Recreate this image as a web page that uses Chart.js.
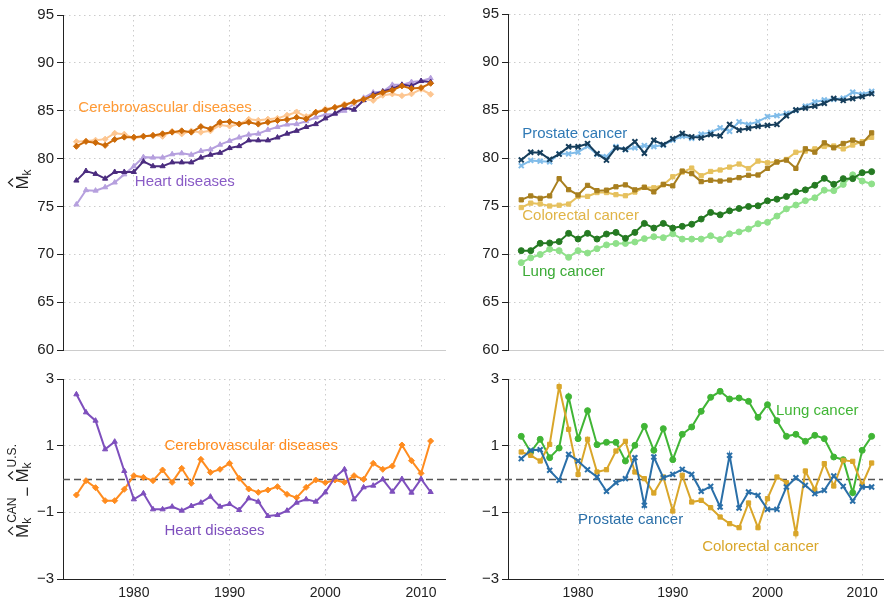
<!DOCTYPE html>
<html lang="en">
<head>
<meta charset="UTF-8">
<title>Life expectancy: Canada vs U.S.</title>
<script src="https://cdn.jsdelivr.net/npm/chart.js@4"></script>
<style>
  body { margin: 0; background: #fff; }
  #wrap { position: relative; width: 889px; height: 606px; overflow: hidden; }
  #wrap canvas { position: absolute; }
</style>
</head>
<body>
<div id="wrap">
  <canvas id="topLeft" width="450" height="362" style="left:0;top:0;width:450px;height:362px"></canvas>
  <canvas id="topRight" width="439" height="362" style="left:450px;top:0;width:439px;height:362px"></canvas>
  <canvas id="botLeft" width="450" height="246" style="left:0;top:360px;width:450px;height:246px"></canvas>
  <canvas id="botRight" width="439" height="246" style="left:450px;top:360px;width:439px;height:246px"></canvas>
</div>
<script>
const years = [1974, 1975, 1976, 1977, 1978, 1979, 1980, 1981, 1982, 1983, 1984, 1985, 1986, 1987,
  1988, 1989, 1990, 1991, 1992, 1993, 1994, 1995, 1996, 1997, 1998, 1999, 2000, 2001, 2002, 2003,
  2004, 2005, 2006, 2007, 2008, 2009, 2010, 2011];
const xTicks = [1980, 1990, 2000, 2010];
const yTicksTop = [60, 65, 70, 75, 80, 85, 90, 95];
const yTicksBottom = [-3, -1, 1, 3];

// top left: M_k for Canada (dark) and U.S. (light)
const heartCan = [77.7, 78.7, 78.4, 77.9, 78.6, 78.6, 78.6, 79.7, 79.2, 79.2, 79.6, 79.6, 79.6, 80.1,
  80.4, 80.6, 81.1, 81.3, 81.9, 81.9, 81.9, 82.2, 82.6, 82.9, 83.3, 83.6, 84.2, 84.7, 85.3, 85.1,
  86.1, 86.7, 87.0, 87.3, 87.7, 87.6, 88.1, 88.0];
const heartUs = [75.2, 76.7, 76.65, 77.0, 77.5, 78.35, 79.2, 80.15, 80.1, 80.1, 80.45, 80.55, 80.4, 80.8,
  80.95, 81.45, 81.85, 82.2, 82.5, 82.6, 83.0, 83.3, 83.55, 83.6, 83.9, 84.3, 84.6, 84.65, 85.0, 85.7,
  86.35, 86.9, 87.0, 87.7, 87.7, 88.0, 88.1, 88.4];
const cerebroCan = [81.28, 81.79, 81.66, 81.38, 82.0, 82.24, 82.24, 82.34, 82.41, 82.59, 82.76, 82.9, 82.76, 83.34,
  83.1, 83.79, 83.86, 83.62, 83.8, 83.6, 83.79, 83.97, 84.07, 84.31, 84.14, 84.83, 85.07, 85.34, 85.59, 85.93,
  86.2, 86.55, 86.9, 87.14, 87.59, 87.31, 87.41, 87.86];
const cerebroUs = [81.76, 81.84, 81.92, 82.03, 82.65, 82.55, 82.14, 82.29, 82.46, 82.32, 82.86, 82.58, 82.89, 82.75,
  82.9, 83.5, 83.39, 83.6, 84.1, 84.0, 84.12, 84.2, 84.53, 84.87, 84.39, 84.86, 85.18, 85.37, 85.69, 85.83,
  86.21, 86.08, 86.61, 86.75, 86.57, 86.76, 87.24, 86.72];

// top right
const prostateCan = [79.8, 80.6, 80.55, 79.85, 80.4, 81.17, 81.17, 81.5, 80.45, 79.78, 81.06, 80.9, 81.7, 80.5,
  81.85, 81.4, 82.0, 82.55, 82.2, 82.1, 82.45, 82.3, 83.5, 82.9, 83.1, 83.3, 83.4, 83.5, 84.4, 85.0,
  85.2, 85.4, 85.7, 86.2, 86.0, 86.2, 86.4, 86.7];
const prostateUs = [79.2, 79.75, 79.67, 79.6, 80.44, 80.43, 80.63, 81.22, 80.39, 80.15, 81.17, 80.89, 81.06, 81.29,
  81.19, 81.36, 81.86, 82.26, 82.06, 82.47, 82.67, 83.14, 82.79, 83.77, 83.49, 83.79, 84.31, 84.41, 84.64, 84.96,
  85.39, 85.84, 86.04, 86.11, 86.22, 86.86, 86.64, 86.94];
const colorectalCan = [75.64, 76.05, 75.8, 76.05, 77.85, 76.7, 76.15, 77.15, 76.6, 76.65, 77.0, 77.2, 76.68, 76.95,
  76.47, 77.26, 77.1, 78.64, 78.37, 77.54, 77.68, 77.6, 77.7, 77.95, 78.2, 78.23, 78.92, 79.58, 79.78, 78.92,
  80.96, 80.61, 81.58, 81.06, 81.51, 81.86, 81.51, 82.62];
const colorectalUs = [74.84, 75.3, 75.22, 75.0, 75.08, 75.2, 76.0, 76.0, 76.4, 76.4, 76.18, 76.07, 76.45, 76.95,
  76.9, 77.2, 78.05, 78.53, 78.95, 78.15, 78.6, 78.75, 79.05, 79.37, 78.9, 79.68, 79.5, 79.6, 79.85, 80.6,
  80.72, 80.95, 81.2, 81.25, 80.95, 81.35, 81.7, 82.15];
const lungCan = [70.35, 70.35, 71.11, 71.15, 71.29, 72.15, 71.56, 72.15, 71.56, 72.08, 72.25, 71.63, 72.25, 73.19,
  72.7, 73.19, 72.7, 72.88, 73.1, 73.64, 74.33, 74.08, 74.5, 74.74, 74.95, 75.02, 75.54, 75.71, 75.99, 76.47,
  76.68, 77.16, 77.88, 77.26, 77.85, 77.85, 78.47, 78.58];
const lungUs = [69.1, 69.6, 69.95, 70.5, 70.35, 69.65, 70.35, 70.1, 70.55, 70.95, 71.1, 71.1, 71.25, 71.6,
  71.8, 71.7, 72.1, 71.55, 71.55, 71.55, 71.9, 71.5, 72.1, 72.3, 72.6, 73.15, 73.3, 73.95, 74.7, 75.1,
  75.55, 75.85, 76.65, 76.6, 77.25, 78.25, 77.6, 77.3];

// bottom: Canada minus U.S.
const heartDiff = [2.54, 2.0, 1.75, 0.89, 1.12, 0.24, -0.61, -0.43, -0.91, -0.91, -0.83, -0.95, -0.81, -0.71,
  -0.53, -0.83, -0.75, -0.93, -0.58, -0.68, -1.11, -1.08, -0.95, -0.71, -0.61, -0.68, -0.40, 0.05, 0.29, -0.61,
  -0.25, -0.20, -0.01, -0.38, 0.0, -0.41, 0.0, -0.39];
const cerebroDiff = [-0.48, -0.05, -0.26, -0.65, -0.65, -0.31, 0.10, 0.05, -0.05, 0.27, -0.10, 0.32, -0.13, 0.59,
  0.20, 0.29, 0.47, 0.02, -0.30, -0.40, -0.33, -0.23, -0.46, -0.56, -0.25, -0.03, -0.11, -0.03, -0.10, 0.10,
  -0.01, 0.47, 0.29, 0.39, 1.02, 0.55, 0.17, 1.14];
const lungDiff = [1.28, 0.81, 1.19, 0.64, 0.93, 2.47, 1.21, 2.05, 1.03, 1.10, 1.10, 0.54, 1.01, 1.58,
  0.86, 1.51, 0.58, 1.34, 1.56, 2.03, 2.45, 2.63, 2.40, 2.43, 2.33, 1.85, 2.23, 1.75, 1.28, 1.34,
  1.13, 1.31, 1.21, 0.66, 0.58, -0.41, 0.86, 1.28];
const colorectalDiff = [0.81, 0.71, 0.54, 1.04, 2.77, 1.49, 0.14, 1.19, 0.21, 0.28, 0.84, 1.13, 0.21, 0.01,
  -0.42, 0.06, -0.96, 0.11, -0.69, -0.64, -0.86, -1.14, -1.34, -1.46, -0.72, -1.46, -0.59, 0.06, -0.11, -1.64,
  0.24, -0.32, 0.46, -0.21, 0.56, 0.53, -0.17, 0.48];
const prostateDiff = [0.61, 0.86, 0.88, 0.26, -0.04, 0.74, 0.54, 0.28, 0.06, -0.37, -0.11, 0.01, 0.64, -0.79,
  0.66, 0.04, 0.14, 0.29, 0.14, -0.37, -0.22, -0.84, 0.71, -0.87, -0.39, -0.49, -0.91, -0.91, -0.24, 0.04,
  -0.19, -0.44, -0.34, 0.09, -0.22, -0.66, -0.24, -0.24];

const FONT = '"Liberation Sans", Arial, Helvetica, sans-serif';
const gridColor = '#cccccc';

function series(vals, color, style, radius) {
  return {
    data: years.map((yr, i) => ({ x: yr, y: vals[i] })),
    borderColor: color,
    backgroundColor: color,
    borderWidth: 2,
    pointStyle: style,
    pointRadius: radius,
    pointBorderWidth: style === 'crossRot' ? 2 : 1,
    tension: 0
  };
}

// text labels placed next to the lines, in data units
const labelPlugin = {
  id: 'seriesLabels',
  afterDatasetsDraw(chart, args, opts) {
    if (!opts.items) return;
    const { ctx, scales } = chart;
    ctx.save();
    ctx.font = '15px ' + FONT;
    ctx.textAlign = 'left';
    ctx.textBaseline = 'middle';
    opts.items.forEach(l => {
      ctx.fillStyle = l.color;
      ctx.fillText(l.text, scales.x.getPixelForValue(l.x), scales.y.getPixelForValue(l.y));
    });
    ctx.restore();
  }
};

// dashed reference line at zero
const zeroPlugin = {
  id: 'zeroLine',
  beforeDatasetsDraw(chart, args, opts) {
    if (!opts.show) return;
    const { ctx, chartArea, scales } = chart;
    const y = Math.round(scales.y.getPixelForValue(0)) + 0.5;
    ctx.save();
    ctx.strokeStyle = '#555';
    ctx.lineWidth = 1.5;
    ctx.setLineDash([7, 4]);
    ctx.beginPath();
    ctx.moveTo(chartArea.left - (opts.extendLeft || 0), y);
    ctx.lineTo(chartArea.right, y);
    ctx.stroke();
    ctx.restore();
  }
};

// rotated y title with hats, sub- and superscripts
const titlePlugin = {
  id: 'axisTitle',
  afterDraw(chart, args, opts) {
    if (!opts.parts) return;
    const { ctx, scales } = chart;
    const big = '17px ' + FONT, small = '12px ' + FONT;
    let total = 0;
    const widths = opts.parts.map(p => {
      let w;
      if (p.t) { ctx.font = big; w = ctx.measureText(p.t).width; }
      else {
        ctx.font = small;
        w = Math.max(ctx.measureText(p.sub || '').width, ctx.measureText(p.sup || '').width + 1);
      }
      w += p.gap || 0;
      total += w;
      return w;
    });
    const cy = (scales.y.top + scales.y.bottom) / 2 + (opts.shift || 0);
    ctx.save();
    ctx.translate(opts.baseX, cy);
    ctx.rotate(-Math.PI / 2);
    ctx.fillStyle = '#222';
    ctx.strokeStyle = '#222';
    ctx.textBaseline = 'alphabetic';
    ctx.textAlign = 'left';
    let u = -total / 2;
    opts.parts.forEach((p, i) => {
      if (p.t) {
        ctx.font = big;
        ctx.fillText(p.t, u, p.low ? 5 : 0);
        if (p.hat) {
          const cx = u + ctx.measureText(p.t).width / 2;
          ctx.lineWidth = 1.2;
          ctx.beginPath();
          ctx.moveTo(cx - 4, -15);
          ctx.lineTo(cx, -19.5);
          ctx.lineTo(cx + 4, -15);
          ctx.stroke();
        }
      } else {
        ctx.font = small;
        if (p.sub) ctx.fillText(p.sub, u, 3);
        if (p.sup) ctx.fillText(p.sup, u + 1, -12);
      }
      u += widths[i];
    });
    ctx.restore();
  }
};

function panel(id, o) {
  return new Chart(document.getElementById(id), {
    type: 'line',
    data: { datasets: o.datasets },
    options: {
      responsive: false,
      animation: false,
      events: [],
      layout: { padding: { top: o.padTop, right: o.padRight, left: 0, bottom: 0 } },
      plugins: {
        legend: { display: false },
        tooltip: { enabled: false },
        seriesLabels: { items: o.labels },
        zeroLine: { show: !!o.zero, extendLeft: o.zeroExtend || 0 },
        axisTitle: o.title || {}
      },
      scales: {
        x: {
          type: 'linear',
          min: o.xMin,
          max: o.xMax,
          afterBuildTicks: s => { s.ticks = xTicks.map(v => ({ value: v })); },
          afterFit: s => { s.height = o.xHeight; },
          grid: { color: gridColor, drawTicks: false },
          border: { color: o.xBorder, dash: [1.5, 3.5] },
          ticks: {
            display: o.xLabels,
            padding: 6,
            color: '#222',
            font: { family: FONT, size: 14 },
            callback: v => String(v)
          }
        },
        y: {
          min: o.yMin,
          max: o.yMax,
          afterBuildTicks: s => { s.ticks = o.yTicks.map(v => ({ value: v })); },
          afterFit: s => { s.width = o.yWidth; },
          grid: { color: gridColor, tickColor: '#222', tickLength: 6, tickBorderDash: [] },
          border: { color: '#222', dash: [1.5, 3.5] },
          ticks: {
            padding: 3,
            color: '#222',
            font: { family: FONT, size: 15 },
            callback: v => String(v).replace('-', '\u2212')
          }
        }
      }
    },
    plugins: [labelPlugin, zeroPlugin, titlePlugin]
  });
}

const hatTitle = [{ t: 'M', hat: true }, { sub: 'k' }];
const diffTitle = [{ t: 'M', hat: true }, { sub: 'k', sup: 'CAN', gap: 1 }, { t: '\u2212', low: true, gap: 4 },
  { t: 'M', hat: true }, { sub: 'k', sup: 'U.S.' }];

panel('topLeft', {
  datasets: [
    series(cerebroCan, '#cc6a08', 'rectRot', 3),
    series(cerebroUs, '#fdc691', 'rectRot', 3),
    series(heartCan, '#4b2c7f', 'triangle', 3),
    series(heartUs, '#b6a0de', 'triangle', 3)
  ],
  labels: [
    { text: 'Cerebrovascular diseases', x: 1974.2, y: 85.3, color: '#ff9a35' },
    { text: 'Heart diseases', x: 1980.1, y: 77.55, color: '#8a5cc6' }
  ],
  title: { parts: hatTitle, baseX: 28, shift: -3 },
  padTop: 15, padRight: 4, xHeight: 10, yWidth: 63,
  xMin: 1972.6, xMax: 2012.5, xBorder: '#cccccc', xLabels: false,
  yMin: 60, yMax: 95, yTicks: yTicksTop
});

panel('topRight', {
  datasets: [
    series(prostateCan, '#163e5c', 'crossRot', 3.5),
    series(prostateUs, '#80bce9', 'crossRot', 3.5),
    series(colorectalCan, '#a87f1f', 'rect', 3),
    series(colorectalUs, '#e6c15e', 'rect', 3),
    series(lungCan, '#257a22', 'circle', 3),
    series(lungUs, '#8fe08a', 'circle', 3)
  ],
  labels: [
    { text: 'Prostate cancer', x: 1974.1, y: 82.55, color: '#2f79b5' },
    { text: 'Colorectal cancer', x: 1974.1, y: 73.95, color: '#e0b446' },
    { text: 'Lung cancer', x: 1974.1, y: 68.15, color: '#3aaa35' }
  ],
  padTop: 14, padRight: 1, xHeight: 10, yWidth: 58,
  xMin: 1972.6, xMax: 2012.2, xBorder: '#cccccc', xLabels: false,
  yMin: 60, yMax: 95, yTicks: yTicksTop
});

panel('botLeft', {
  datasets: [
    series(heartDiff, '#7e4fbd', 'triangle', 3),
    series(cerebroDiff, '#ff8c1f', 'rectRot', 3)
  ],
  labels: [
    { text: 'Cerebrovascular diseases', x: 1983.2, y: 0.99, color: '#ff8c1f' },
    { text: 'Heart diseases', x: 1983.2, y: -1.56, color: '#7e4fbd' }
  ],
  title: { parts: diffTitle, baseX: 28, shift: 12 },
  zero: true,
  padTop: 19, padRight: 4, xHeight: 27, yWidth: 63,
  xMin: 1972.6, xMax: 2012.5, xBorder: '#222', xLabels: true,
  yMin: -3, yMax: 3, yTicks: yTicksBottom
});

panel('botRight', {
  datasets: [
    series(prostateDiff, '#2a6fa8', 'crossRot', 3.5),
    series(colorectalDiff, '#d9a62a', 'rect', 3),
    series(lungDiff, '#40b535', 'circle', 3)
  ],
  labels: [
    { text: 'Lung cancer', x: 2000.9, y: 2.04, color: '#40b535' },
    { text: 'Prostate cancer', x: 1980.0, y: -1.23, color: '#2a6fa8' },
    { text: 'Colorectal cancer', x: 1993.1, y: -2.04, color: '#d9a62a' }
  ],
  zero: true, zeroExtend: 58,
  padTop: 19, padRight: 1, xHeight: 27, yWidth: 58,
  xMin: 1972.6, xMax: 2012.2, xBorder: '#222', xLabels: true,
  yMin: -3, yMax: 3, yTicks: yTicksBottom
});
</script>
</body>
</html>
